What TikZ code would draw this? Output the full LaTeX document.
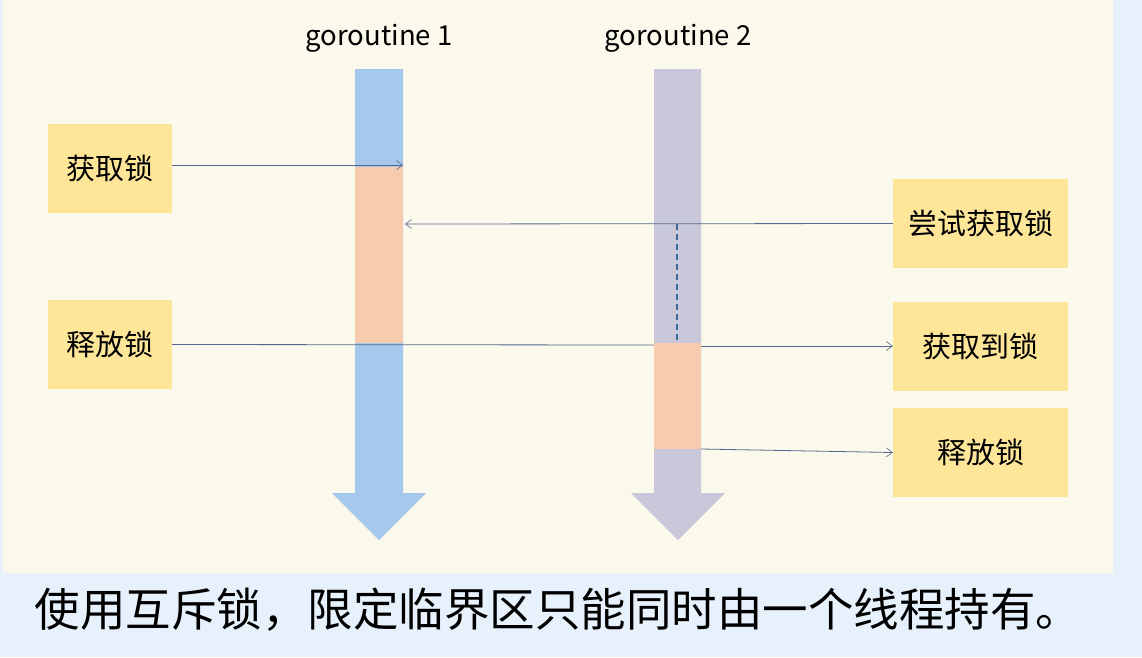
\documentclass[tikz,border=0pt]{standalone}
\usepackage{fontspec}
\setmainfont{Noto Sans CJK SC}
\usepackage{xcolor}
\usetikzlibrary{positioning,arrows.meta}
\definecolor{pagebg}{HTML}{E7F1FB}
\definecolor{creambg}{HTML}{FBF8EC}
\definecolor{laneA}{HTML}{A6C8EC}
\definecolor{laneB}{HTML}{C8C8DA}
\definecolor{critsec}{HTML}{F7CBAD}
\definecolor{note}{HTML}{FEE699}
\definecolor{wire}{HTML}{56688A}
\definecolor{waitline}{HTML}{3B6A9A}
\tikzset{
  lbox/.style={rectangle, fill=note, minimum width=124pt, minimum height=89pt, inner sep=0pt, font=\fontsize{29}{32}\selectfont},
  rbox/.style={lbox, minimum width=175pt},
  gname/.style={font=\fontsize{27.5}{30}\selectfont, inner sep=0pt},
  msg/.style={draw=wire, line width=0.8pt, -{Straight Barb[length=6pt,width=9pt,line width=0.6pt]}},
  msgplain/.style={draw=wire, line width=0.8pt},
  wait/.style={draw=waitline, line width=2.2pt, dash pattern=on 6pt off 4pt},
  caption/.style={font=\fontsize{45.5}{50}\selectfont, inner sep=0pt}
}

\begin{document}
\begin{tikzpicture}[x=1pt, y=-1pt]
  \useasboundingbox (0,0) rectangle (1142,657);
  % Backgrounds
  \fill[pagebg] (0,0) rectangle (1142,657);
  \fill[creambg] (3,0) rectangle (1113,573);

  % Goroutine lanes
  \fill[laneA] (355,69) -- (403,69) -- (403,493) -- (426,493) -- (379,540)
    -- (332,493) -- (355,493) -- cycle;
  \fill[laneB] (654,69) -- (701,69) -- (701,493) -- (725,493) -- (678,540)
    -- (631,493) -- (654,493) -- cycle;

  % Critical sections
  \fill[critsec] (355,167) rectangle (403,343);
  \fill[critsec] (654,343) rectangle (701,449);

  % Lane titles
  \node[gname] (g1) at (379,38) {goroutine 1};
  \node[gname] (g2) at (678,38) {goroutine 2};

  % Left notes
  \node[lbox] (lock1) at (110,168.5) {获取锁};
  \node[lbox] (unlock1) at (110,344.5) {释放锁};

  % Right notes
  \node[rbox] (trylock) at (980.5,223.5) {尝试获取锁};
  \node[rbox] (gotlock) at (980.5,346) {获取到锁};
  \node[rbox] (unlock2) at (980.5,452.5) {释放锁};

  % Points on the lanes
  \coordinate (a1) at (403,165);
  \coordinate (a2) at (405,224);
  \coordinate (b1) at (677,224);
  \coordinate (b2) at (677,343);
  \coordinate (b3) at (654,345);
  \coordinate (b4) at (701,346);
  \coordinate (b5) at (701,449);

  % Messages
  \draw[msg] (lock1.east |- a1) -- (a1);
  \draw[msg] (trylock.west) -- (a2);
  \draw[msgplain] (unlock1.east) -- (b3);
  \draw[msg] (b4) -- (gotlock.west);
  \draw[msg] (b5) -- (unlock2.west);

  % Waiting for the lock
  \draw[wait] (b1) -- (b2);

  % Caption
  \node[caption] (cap) at (558,610) {使用互斥锁，限定临界区只能同时由一个线程持有。};
\end{tikzpicture}
\end{document}
